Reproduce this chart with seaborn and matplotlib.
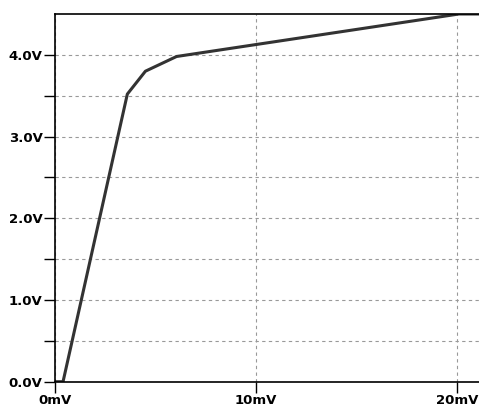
import numpy as np
import pandas as pd
import matplotlib
matplotlib.use("Agg")
import matplotlib.pyplot as plt
import seaborn as sns
from matplotlib.ticker import FuncFormatter, FixedLocator

# transfer curve
vin_mv = [0.0, 0.4, 3.6, 4.5, 6.05, 20.1, 21.1]
vout_v = [0.0, 0.0, 3.52, 3.80, 3.98, 4.5, 4.5]

df = pd.DataFrame({"Vin": vin_mv, "Vout": vout_v})

sns.set_style("white")
plt.rcParams["font.family"] = ["DejaVu Sans"]

fig = plt.figure(figsize=(4.79, 4.07), dpi=100)
ax = fig.add_axes([55 / 479, 25.3 / 407, 424 / 479, 367.7 / 407])

sns.lineplot(data=df, x="Vin", y="Vout", ax=ax, color="#333333", linewidth=2.2)

ax.set_xlim(0, 21.1)
ax.set_ylim(0, 4.5)

ax.xaxis.set_major_locator(FixedLocator([0, 10, 20]))
ax.yaxis.set_major_locator(FixedLocator([0, 1, 2, 3, 4]))
ax.yaxis.set_minor_locator(FixedLocator([0.5, 1.5, 2.5, 3.5]))
ax.xaxis.set_major_formatter(FuncFormatter(lambda v, p: f"{v:.0f}mV"))
ax.yaxis.set_major_formatter(FuncFormatter(lambda v, p: f"{v:.1f}V"))

ax.grid(True, which="both", axis="y", linestyle=(0, (3, 3)), color="#999999", linewidth=0.8)
ax.grid(True, which="major", axis="x", linestyle=(0, (3, 3)), color="#999999", linewidth=0.8)

ax.tick_params(axis="both", which="both", direction="out", length=8, width=1, color="black",
               labelcolor="black", labelsize=9.5, pad=1, left=True, bottom=True)
for lbl in ax.get_xticklabels() + ax.get_yticklabels():
    lbl.set_fontweight("bold")

for side in ["left", "bottom", "top"]:
    ax.spines[side].set_visible(True)
    ax.spines[side].set_color("black")
    ax.spines[side].set_linewidth(1.2)
ax.spines["right"].set_visible(False)

ax.set_xlabel("")
ax.set_ylabel("")

fig.savefig("out.png", dpi=100)
